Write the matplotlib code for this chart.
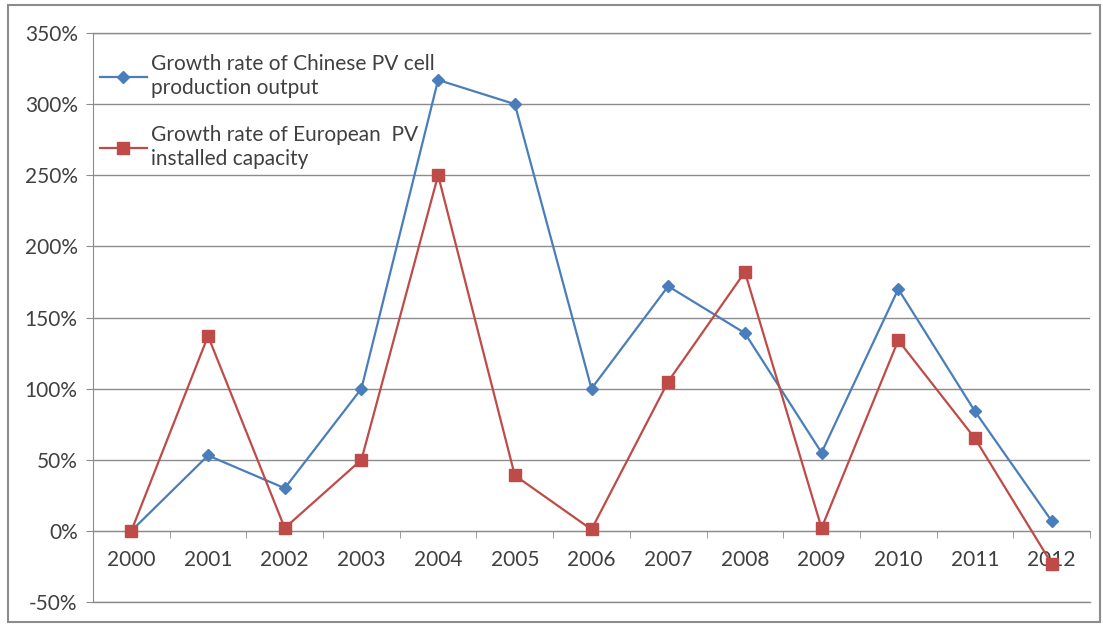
import numpy as np
import matplotlib
matplotlib.use("Agg")
import matplotlib.pyplot as plt
from matplotlib.patches import Rectangle

plt.rcParams["font.family"] = ["Lato", "DejaVu Sans"]

years = ["2000", "2001", "2002", "2003", "2004", "2005", "2006",
         "2007", "2008", "2009", "2010", "2011", "2012"]
china_growth = [0, 53, 30, 100, 317, 300, 100, 172, 139, 55, 170, 84, 7]
europe_growth = [0, 137, 2, 50, 250, 39, 1, 105, 182, 2, 134, 65, -23]
y_ticks = [-50, 0, 50, 100, 150, 200, 250, 300, 350]

blue = "#4A7EBB"
red = "#BE4B48"
grid_col = "#8C8C8C"
text_col = "#404040"

fig = plt.figure(figsize=(11.03, 6.25), dpi=100)
ax = fig.add_axes([93 / 1103, 23 / 625, 997 / 1103, 569 / 625])

x = np.arange(len(years))
ax.plot(x, china_growth, color=blue, lw=1.6, marker="D", ms=6,
        mfc=blue, mec=blue, label="Growth rate of Chinese PV cell\nproduction output", zorder=3)
ax.plot(x, europe_growth, color=red, lw=1.6, marker="s", ms=8.5,
        mfc=red, mec=red, label="Growth rate of European  PV\ninstalled capacity", zorder=3)

ax.set_xlim(-0.5, len(years) - 0.5)
ax.set_ylim(-50, 350)
ax.set_yticks(y_ticks)
ax.set_yticklabels(["{}%".format(v) for v in y_ticks])
ax.yaxis.grid(True, color=grid_col, lw=1.0)
# outermost gridlines, unclipped so they keep full width
for v in (y_ticks[0], y_ticks[-1]):
    ax.axhline(v, color=grid_col, lw=1.0, clip_on=False, zorder=0.5)
ax.set_axisbelow(True)

# category axis crosses at 0
ax.spines["bottom"].set_position(("data", 0))
ax.spines["bottom"].set_color(grid_col)
ax.spines["left"].set_color(grid_col)
ax.spines["top"].set_visible(False)
ax.spines["right"].set_visible(False)

ax.set_xticks(x)
ax.set_xticklabels(years)
ax.set_xticks(np.arange(-0.5, len(years)), minor=True)
ax.tick_params(axis="x", which="major", length=0, pad=14, labelsize=15, colors=text_col)
ax.tick_params(axis="x", which="minor", length=5, color=grid_col, direction="out")
ax.tick_params(axis="y", length=5, color=grid_col, labelsize=15, colors=text_col, pad=6)

leg = ax.legend(loc="upper left", bbox_to_anchor=(-0.006, 0.985), frameon=False,
                fontsize=15, handlelength=2.3, handletextpad=0.15,
                labelspacing=1.3, borderaxespad=0.2)
for t in leg.get_texts():
    t.set_color(text_col)
    t.set_linespacing(1.25)

# chart area frame
fig.patches.append(Rectangle((8 / 1103, 3 / 625), 1092 / 1103, 617 / 625,
                             transform=fig.transFigure, fill=False,
                             edgecolor="#8C8C8C", lw=1.5))

fig.savefig("out.png", dpi=100)
